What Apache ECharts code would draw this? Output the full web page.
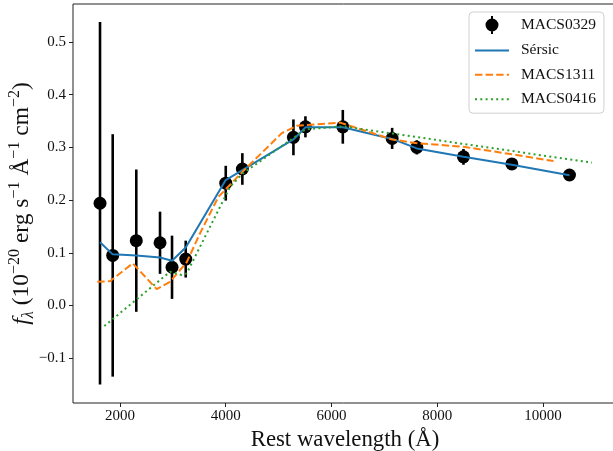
<!DOCTYPE html>
<html>
<head>
<meta charset="utf-8">
<script src="https://cdn.jsdelivr.net/npm/echarts@6/dist/echarts.min.js"></script>
<style>
  html, body { margin: 0; padding: 0; background: #fff; }
  #chart { width: 613px; height: 451px; }
</style>
</head>
<body>
<div id="chart"></div>
<script>
// ---- Data ----
const obsWave = [1622, 1862, 2308, 2757, 2984, 3243, 4000, 4314, 5280, 5507, 6214, 7147, 7614, 8496, 9411, 10501];
const obsFlux = [0.194, 0.095, 0.123, 0.119, 0.0725, 0.088, 0.232, 0.259, 0.319, 0.339, 0.339, 0.317, 0.300, 0.282, 0.2685, 0.2476];
const obsErr  = [0.344, 0.230, 0.135, 0.059, 0.060, 0.035, 0.033, 0.030, 0.034, 0.020, 0.032, 0.020, 0.0135, 0.015, 0.009, 0.005];

const sersicFlux = [0.120, 0.097, 0.095, 0.091, 0.085, 0.110, 0.238, 0.257, 0.315, 0.338, 0.338, 0.316, 0.298, 0.282, 0.267, 0.247];

const macs1311Wave = [1570, 1811, 2240, 2694, 2946, 3262, 3514, 3860, 4321, 5060, 5343, 6163, 7147, 7614, 8496, 9411, 10200];
const macs1311Flux = [0.045, 0.046, 0.080, 0.031, 0.045, 0.082, 0.137, 0.206, 0.254, 0.327, 0.341, 0.347, 0.315, 0.308, 0.301, 0.287, 0.274];

const macs0416Wave = [1703, 2946, 3167, 3262, 4081, 4314, 5280, 5507, 6214, 10925];
const macs0416Flux = [-0.039, 0.064, 0.058, 0.061, 0.225, 0.250, 0.318, 0.334, 0.340, 0.271];

const xTicks = [2000, 4000, 6000, 8000, 10000];
const yTicks = [-0.1, 0.0, 0.1, 0.2, 0.3, 0.4, 0.5];

// ---- Chart ----
const FONT = 'Liberation Serif';
const zip = (a, b) => a.map((v, i) => [v, b[i]]);

const chart = echarts.init(document.getElementById('chart'), null, { renderer: 'canvas' });

const option = {
  animation: false,
  backgroundColor: '#fff',
  grid: {
    left: 73, right: -4, top: 4, bottom: 48,
    outerBoundsMode: 'none',
    containLabel: false,
    show: true, borderColor: '#222', borderWidth: 1, backgroundColor: 'transparent'
  },
  xAxis: {
    type: 'value',
    min: 1111, max: 11400,
    splitLine: { show: false },
    axisLine: { show: false, onZero: false },
    axisTick: { show: true, customValues: xTicks, length: 4, inside: false, lineStyle: { color: '#222', width: 1 } },
    axisLabel: { customValues: xTicks, margin: 6, color: '#111', fontFamily: FONT, fontSize: 15, formatter: v => String(v) },
    name: 'Rest wavelength (Å)',
    nameLocation: 'middle',
    nameGap: 26,
    nameMoveOverlap: false,
    nameTextStyle: { fontFamily: FONT, fontSize: 22.8, color: '#111', verticalAlign: 'top' }
  },
  yAxis: {
    type: 'value',
    min: -0.185, max: 0.572,
    splitLine: { show: false },
    axisLine: { show: false, onZero: false },
    axisTick: { show: true, customValues: yTicks, length: 4, lineStyle: { color: '#222', width: 1 } },
    axisLabel: {
      customValues: yTicks, margin: 7, color: '#111', fontFamily: FONT, fontSize: 15,
      formatter: v => (v < -1e-9 ? '\u2212' : '') + Math.abs(v).toFixed(1)
    },
    name: '{f|f}{sub|λ}{n| (10}{sup|−20}{n| erg s}{sup|−1}{n| Å}{sup|−1}{n| cm}{sup|−2}{n|)}',
    nameLocation: 'middle',
    nameRotate: 90,
    nameGap: 36,
    nameMoveOverlap: false,
    nameTextStyle: {
      fontFamily: FONT, color: '#111',
      rich: {
        f: { fontFamily: FONT, fontStyle: 'italic', fontSize: 24, lineHeight: 30, color: '#111' },
        n: { fontFamily: FONT, fontSize: 23.5, lineHeight: 30, color: '#111' },
        sup: { fontFamily: FONT, fontSize: 16, lineHeight: 15, verticalAlign: 'top', color: '#111' },
        sub: { fontFamily: FONT, fontStyle: 'italic', fontSize: 16, lineHeight: 16, verticalAlign: 'bottom', color: '#111' }
      }
    }
  },
  legend: {
    data: [
      { name: 'MACS0329', icon: 'path://M17,2.5 A6.5,6.5 0 1,1 17,15.5 A6.5,6.5 0 1,1 17,2.5 Z M16,0 L18,0 L18,18 L16,18 Z' },
      { name: 'Sérsic', itemStyle: { opacity: 0 } },
      { name: 'MACS1311', itemStyle: { opacity: 0 } },
      { name: 'MACS0416', itemStyle: { opacity: 0 } }
    ],
    orient: 'vertical',
    left: 469, top: 12,
    width: 139,
    itemWidth: 34, itemHeight: 18,
    itemGap: 8.4,
    padding: [4, 8, 6, 5],
    backgroundColor: 'rgba(255,255,255,0.8)',
    borderColor: '#d0d0d0', borderWidth: 1, borderRadius: 4,
    textStyle: { fontFamily: FONT, fontSize: 15.5, color: '#111', padding: [0, 0, 0, 7] },
    selectedMode: false
  },
  series: [
    {
      name: 'MACS0329-err',
      type: 'custom',
      z: 2,
      data: obsWave.map((w, i) => [w, obsFlux[i], obsErr[i]]),
      renderItem: function (params, api) {
        const x = api.value(0), y = api.value(1), e = api.value(2);
        const p1 = api.coord([x, y + e]);
        const p2 = api.coord([x, y - e]);
        return {
          type: 'line',
          shape: { x1: p1[0], y1: p1[1], x2: p2[0], y2: p2[1] },
          style: { stroke: '#000', lineWidth: 2.6 }
        };
      },
      silent: true
    },
    {
      name: 'MACS0329',
      type: 'scatter',
      z: 3,
      symbol: 'circle',
      symbolSize: 13,
      symbolKeepAspect: true,
      itemStyle: { color: '#000', opacity: 1 },
      data: zip(obsWave, obsFlux)
    },
    {
      name: 'Sérsic',
      type: 'line',
      z: 4,
      showSymbol: false, symbol: 'none',
      lineStyle: { color: '#1f77b4', width: 2 },
      itemStyle: { color: '#1f77b4' },
      data: zip(obsWave, sersicFlux)
    },
    {
      name: 'MACS1311',
      type: 'line',
      z: 4,
      showSymbol: false, symbol: 'none',
      lineStyle: { color: '#ff7f0e', width: 2, type: [7.4, 3.2] },
      itemStyle: { color: '#ff7f0e' },
      data: zip(macs1311Wave, macs1311Flux)
    },
    {
      name: 'MACS0416',
      type: 'line',
      z: 4,
      showSymbol: false, symbol: 'none',
      lineStyle: { color: '#2ca02c', width: 2, type: [2, 3.3] },
      itemStyle: { color: '#2ca02c' },
      data: zip(macs0416Wave, macs0416Flux)
    }
  ]
};

chart.setOption(option);
</script>
</body>
</html>
